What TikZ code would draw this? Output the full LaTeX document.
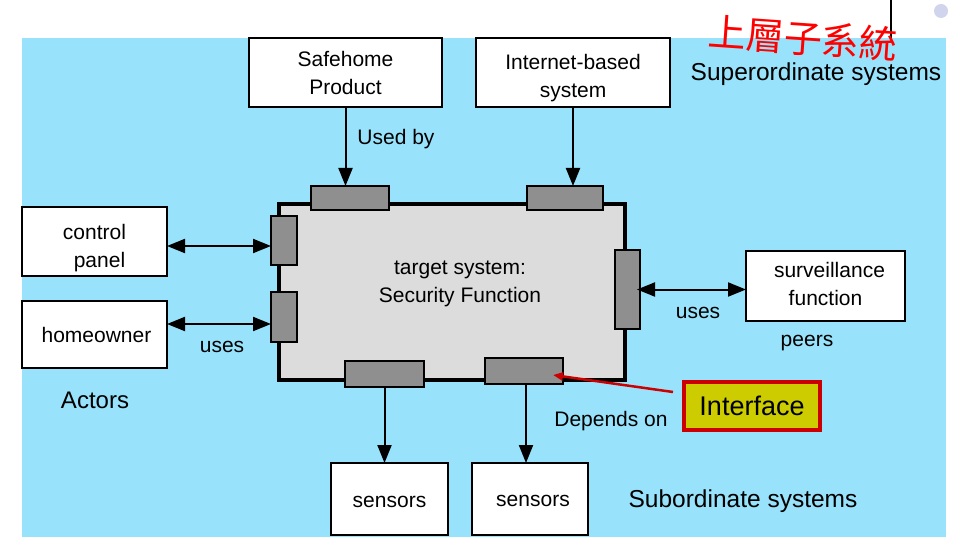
\documentclass[tikz,border=0pt]{standalone}
\usepackage{xcolor}
\usepackage{fontspec}
\setmainfont{Liberation Sans}
\newfontfamily\cjkfont{Noto Sans CJK TC}
\usetikzlibrary{arrows.meta}

\definecolor{skyfill}{RGB}{152,226,251}
\definecolor{targetgray}{RGB}{220,220,220}
\definecolor{portgray}{RGB}{143,143,143}
\definecolor{ifaceyellow}{RGB}{204,204,0}
\definecolor{ifacered}{RGB}{204,0,0}
\definecolor{dotlav}{RGB}{208,212,236}

\newcommand{\lowered}[2]{\raisebox{#1}[\height][\depth]{\begin{tabular}{@{}c@{}}#2\end{tabular}}}

\begin{document}
\begin{tikzpicture}[x=1pt, y=-1pt,
    every node/.style={font=\fontsize{21}{28}\selectfont, inner sep=0pt, outer sep=0pt},
    sysbox/.style={draw=black, line width=2pt, fill=white, align=center},
    port/.style={draw=black, line width=2pt, fill=portgray},
    bigtext/.style={font=\fontsize{24.5}{28}\selectfont},
    arrow/.style={-{Triangle[length=18pt,width=14pt]}, line width=2pt},
    twoway/.style={{Triangle[length=18pt,width=14pt]}-{Triangle[length=18pt,width=14pt]}, line width=2pt}]
    \useasboundingbox (0,0) rectangle (965,548);
    \fill[white] (0,0) rectangle (965,548);
    \fill[skyfill] (22,38) rectangle (946,537);
    \draw[line width=1.5pt] (891,0) -- (891,38);
    \fill[dotlav] (941,11) circle (7);

    % target system and its interfaces
    \node[draw=black, line width=3.5pt, fill=targetgray, minimum width=346pt, minimum height=176pt] (target) at (452,292) {};
    \node[align=center] (targettext) at (460,284) {target system:\\Security Function};
    \node[port, minimum width=78pt, minimum height=24pt] (pt1) at (350,198) {};
    \node[port, minimum width=76pt, minimum height=24pt] (pt2) at (565,198) {};
    \node[port, minimum width=26pt, minimum height=49pt] (pl1) at (284,240.5) {};
    \node[port, minimum width=26pt, minimum height=50pt] (pl2) at (284,317) {};
    \node[port, minimum width=25pt, minimum height=79pt] (pr) at (627.5,289.5) {};
    \node[port, minimum width=79pt, minimum height=26pt] (pb1) at (384.5,374) {};
    \node[port, minimum width=78pt, minimum height=26pt] (pb2) at (524,371) {};

    % surrounding systems
    \node[sysbox, minimum width=193pt, minimum height=69pt] (safe) at (345.5,72.5) {Safehome\\Product};
    \node[sysbox, minimum width=194pt, minimum height=69pt] (inet) at (573,72.5) {\lowered{-5pt}{Internet-based\\system}};
    \node[sysbox, minimum width=145pt, minimum height=69pt] (ctrl) at (94.5,241.5) {\lowered{-6pt}{control\\\hspace{10pt}panel}};
    \node[sysbox, minimum width=145pt, minimum height=67pt] (home) at (94.5,334.5) {\hspace{4pt}homeowner};
    \node[sysbox, minimum width=159pt, minimum height=70pt] (surv) at (825.5,286) {\lowered{0pt}{\hspace{8pt}surveillance\\function}};
    \node[sysbox, minimum width=117pt, minimum height=72pt] (sens1) at (389.5,499) {\raisebox{-3pt}[\height][\depth]{sensors}};
    \node[sysbox, minimum width=116pt, minimum height=72pt] (sens2) at (530,499) {\raisebox{-2pt}[\height][\depth]{\hspace{6pt}sensors}};
    \node[draw=ifacered, line width=3.5pt, fill=ifaceyellow, minimum width=136pt, minimum height=48pt,
      font=\fontsize{27}{32}\selectfont] (iface) at (752,406) {Interface};

    % connectors
    \draw[arrow] (safe.south) -- (safe.south |- pt1.north);
    \draw[arrow] (inet.south) -- (inet.south |- pt2.north);
    \draw[twoway] ([yshift=-4.5pt]ctrl.east) -- ([yshift=-4.5pt]ctrl.east -| pl1.west);
    \draw[twoway] ([yshift=10.5pt]home.east) -- ([yshift=10.5pt]home.east -| pl2.west);
    \draw[twoway] ([xshift=-3pt]pr.east) -- (pr.east -| surv.west);
    \draw[arrow] (pb1.south) -- (pb1.south |- sens1.north);
    \draw[arrow] ([xshift=2pt]pb2.south) -- ([xshift=2pt]pb2.south |- sens2.north);
    \draw[-{Triangle[length=10pt,width=8pt]}, line width=2.5pt, ifacered] ([xshift=-11pt,yshift=14pt]iface.west) -- ([xshift=-10pt,yshift=-4pt]pb2.east);

    % labels
    \node (usedby) at (396,139) {Used by};
    \node (usesleft) at (222,347) {uses};
    \node (usesright) at (698,313) {uses};
    \node (peers) at (807,343) {peers};
    \node[font=\fontsize{24}{28}\selectfont] (actors) at (95,400) {Actors};
    \node (dependson) at (611,421) {Depends on};
    \node[bigtext] (superord) at (816,74) {Superordinate systems};
    \node[bigtext] (subord) at (743,501) {Subordinate systems};
    \node[font=\cjkfont\fontsize{38}{40}\selectfont, text=red, rotate=-4] (note) at (803,38) {上層子系統};
  \end{tikzpicture}
\end{document}
